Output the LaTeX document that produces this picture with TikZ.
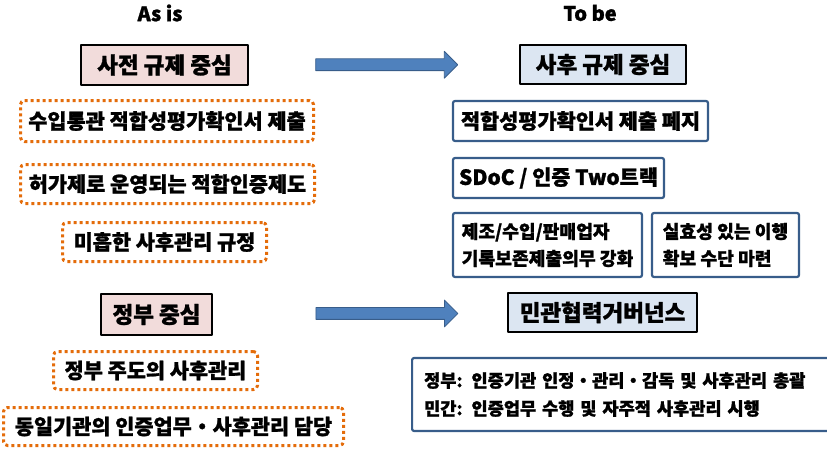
\documentclass[tikz,border=0pt]{standalone}
\usepackage{fontspec}
\setmainfont{Noto Sans CJK KR}[BoldFeatures={FakeBold=1.2}]
\usetikzlibrary{shapes.arrows}
\definecolor{pinkfill}{HTML}{F2DCDB}
\definecolor{lightfill}{HTML}{DCE6F2}
\definecolor{dotorange}{HTML}{E46C0A}
\definecolor{edgeblue}{HTML}{385D8A}
\definecolor{arrowblue}{HTML}{4F81BD}
\tikzset{
    hdr/.style={
        font=\fontsize{20}{24}\selectfont\bfseries
    },
    keybox/.style={
        draw=black, line width=2.2pt, inner sep=0pt,
        font=\fontsize{22.5}{26}\selectfont\bfseries
    },
    prebox/.style={keybox, fill=pinkfill},
    postbox/.style={keybox, fill=lightfill},
    dotbox/.style={
        draw=dotorange, line width=3pt, dash pattern=on 3pt off 3pt,
        rounded corners=4pt, inner sep=0pt,
        font=\fontsize{20.8}{24}\selectfont\bfseries
    },
    bluebox/.style={
        draw=edgeblue, line width=2.2pt, fill=white, rounded corners=2pt,
        inner sep=0pt, font=\fontsize{20.8}{24}\selectfont\bfseries
    },
    smallbox/.style={
        align=left, font=\fontsize{18.2}{27}\selectfont\bfseries
    },
    blockarrow/.style={
        single arrow, draw=edgeblue, fill=arrowblue, line width=0.8pt,
        minimum height=142pt, minimum width=26pt,
        single arrow head extend=7.5pt, inner xsep=0pt, inner ysep=5.5pt
    }
}

\begin{document}
\begin{tikzpicture}[x=1pt,y=-1pt,line join=round]

    \useasboundingbox (0,0) rectangle (827,452);

% --- headings ---
    \node[hdr] (asis) at (160,13) {As is};
    \node[hdr] (tobe) at (590,13) {To be};

% --- regulation: before -> after ---
    \node[prebox, minimum width=167pt, minimum height=40pt] (pre) at (164.5,65) {사전 규제 중심};
    \node[postbox, minimum width=166pt, minimum height=39pt] (post) at (603,64.5) {사후 규제 중심};
    \path (pre.center) -- node[blockarrow] (arr1) {} (post.center);

% as is (dotted)
    \node[dotbox, minimum width=293pt, minimum height=41pt] (d1) at (167,121) {수입통관 적합성평가확인서 제출};
    \node[dotbox, minimum width=294pt, minimum height=39pt] (d2) at (167.5,184) {허가제로 운영되는 적합인증제도};
    \node[dotbox, minimum width=204pt, minimum height=39pt] (d3) at (164.5,242) {미흡한 사후관리 규정};

% to be
    \node[bluebox, minimum width=255pt, minimum height=40pt] (b1) at (580.5,121) {적합성평가확인서 제출 폐지};
    \node[bluebox, minimum width=211pt, minimum height=40pt] (b2) at (558.5,178) {SDoC / 인증 Two트랙};
    \node[bluebox, smallbox, minimum width=189pt, minimum height=64pt] (b3) at (547.5,245) {제조/수입/판매업자\\기록보존제출의무 강화};
    \node[bluebox, smallbox, minimum width=147pt, minimum height=64pt] (b4) at (725.5,245) {실효성 있는 이행\\확보 수단 마련};

% --- governance: before -> after ---
    \node[prebox, minimum width=111pt, minimum height=41pt] (gov) at (156.5,314.5) {정부 중심};
    \node[postbox, minimum width=189pt, minimum height=39pt] (gov2) at (602.5,312.5) {민관협력거버넌스};
    \path (gov.center) -- node[blockarrow, pos=0.51] (arr2) {} (gov2.center);

% as is (dotted)
    \node[dotbox, minimum width=204pt, minimum height=38pt] (d4) at (155.5,370.5) {정부 주도의 사후관리};
    \node[dotbox, minimum width=340pt, minimum height=38pt] (d5) at (173.5,426.5) {동일기관의 인증업무・사후관리 담당};

% to be (runs past the right edge)
    \node[bluebox, smallbox, font=\fontsize{17.6}{28}\selectfont\bfseries, anchor=west, text width=396pt, inner xsep=12pt, minimum height=73pt] (b5) at (411,394.5)
        {정부: 인증기관 인정・관리・감독 및 사후관리 총괄\\민간: 인증업무 수행 및 자주적 사후관리 시행};

\end{tikzpicture}
\end{document}
